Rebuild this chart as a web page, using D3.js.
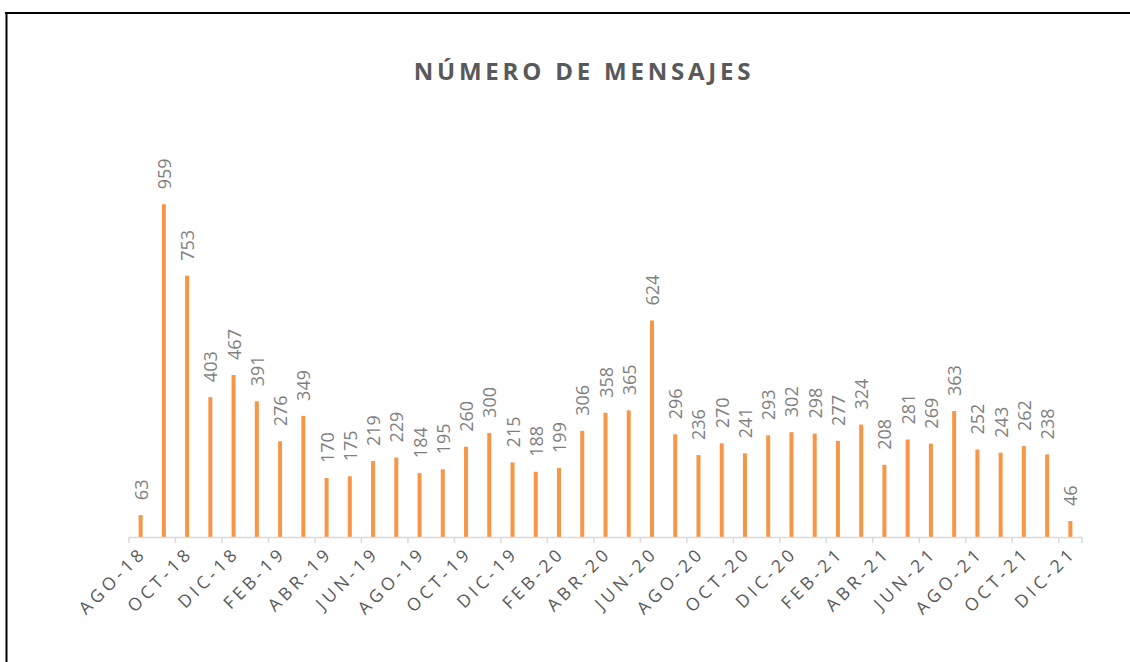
<!DOCTYPE html>
<html>
<head>
<meta charset="utf-8">
<script src="https://cdn.jsdelivr.net/npm/d3@7"></script>
<style>
  body { margin: 0; background: #fff; }
  text { font-family: "Open Sans", sans-serif; }
</style>
</head>
<body>
<div id="chart"></div>
<script>
// data
var months = ["AGO-18","SEP-18","OCT-18","NOV-18","DIC-18","ENE-19","FEB-19","MAR-19","ABR-19","MAY-19",
  "JUN-19","JUL-19","AGO-19","SEP-19","OCT-19","NOV-19","DIC-19","ENE-20","FEB-20","MAR-20",
  "ABR-20","MAY-20","JUN-20","JUL-20","AGO-20","SEP-20","OCT-20","NOV-20","DIC-20","ENE-21",
  "FEB-21","MAR-21","ABR-21","MAY-21","JUN-21","JUL-21","AGO-21","SEP-21","OCT-21","NOV-21","DIC-21"];
var mensajes = [63, 959, 753, 403, 467, 391, 276, 349, 170, 175,
  219, 229, 184, 195, 260, 300, 215, 188, 199, 306,
  358, 365, 624, 296, 236, 270, 241, 293, 302, 298,
  277, 324, 208, 281, 269, 363, 252, 243, 262, 238, 46];
// every second month gets a label
var tickLabels = months.filter(function(d, i) { return i % 2 === 0; });

var W = 1130, H = 662;
var left = 129, right = 1082, base = 537;

var svg = d3.select("#chart").append("svg")
    .attr("width", W)
    .attr("height", H);

// frame lines (top and left)
svg.append("line").attr("x1", 5).attr("x2", W).attr("y1", 13).attr("y2", 13)
    .attr("stroke", "#000").attr("stroke-width", 2);
svg.append("line").attr("x1", 6.5).attr("x2", 6.5).attr("y1", 12).attr("y2", H)
    .attr("stroke", "#000").attr("stroke-width", 2);

var x = d3.scaleBand()
    .domain(months)
    .range([left, right]);
var y = d3.scaleLinear()
    .domain([0, 1000])
    .range([base, base - 347]);

// title
svg.append("text")
    .attr("x", 584)
    .attr("y", 80)
    .attr("text-anchor", "middle")
    .style("font-size", "24px")
    .style("font-weight", "bold")
    .style("letter-spacing", "3.8px")
    .style("fill", "#595959")
    .text("NÚMERO DE MENSAJES");

// bars
svg.selectAll(".bar")
    .data(mensajes)
    .enter().append("rect")
    .attr("class", "bar")
    .attr("x", function(d, i) { return x(months[i]) + x.bandwidth() / 2 - 2; })
    .attr("width", 4)
    .attr("y", function(d) { return y(d); })
    .attr("height", function(d) { return base - y(d); })
    .style("fill", "#f79646");

// value labels
svg.selectAll(".val")
    .data(mensajes)
    .enter().append("text")
    .attr("class", "val")
    .attr("transform", function(d, i) {
        return "translate(" + (x(months[i]) + x.bandwidth() / 2 + 7) + "," + (y(d) - 15) + ") rotate(-90)";
    })
    .style("font-size", "18px")
    .style("fill", "#7f7f7f")
    .text(function(d) { return d; });

// x axis
var axis = svg.append("g");
axis.append("line")
    .attr("x1", left).attr("x2", right)
    .attr("y1", base + 0.5).attr("y2", base + 0.5)
    .attr("stroke", "#d9d9d9").attr("stroke-width", 1.5);
axis.selectAll(".tick")
    .data(tickLabels)
    .enter().append("line")
    .attr("x1", function(d) { return x(d); })
    .attr("x2", function(d) { return x(d); })
    .attr("y1", base)
    .attr("y2", base + 6)
    .attr("stroke", "#d9d9d9").attr("stroke-width", 1.5);
axis.append("line")
    .attr("x1", right).attr("x2", right)
    .attr("y1", base).attr("y2", base + 6)
    .attr("stroke", "#d9d9d9").attr("stroke-width", 1.5);

axis.selectAll(".lab")
    .data(tickLabels)
    .enter().append("text")
    .attr("class", "lab")
    .attr("transform", function(d) {
        return "translate(" + (x(d) + x.bandwidth() / 2 + 7) + "," + (base + 17) + ") rotate(-45)";
    })
    .attr("text-anchor", "end")
    .style("font-size", "17.5px")
    .style("letter-spacing", "4px")
    .style("fill", "#595959")
    .text(function(d) { return d; });
</script>
</body>
</html>
